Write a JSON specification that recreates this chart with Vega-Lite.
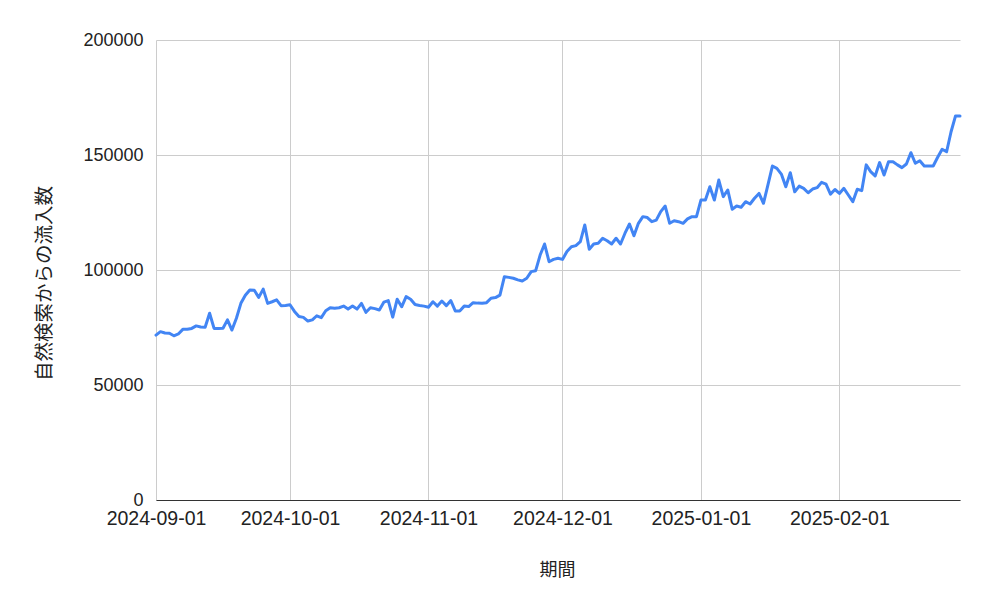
{
  "$schema": "https://vega.github.io/schema/vega-lite/v6.json",
  "autosize": {"type": "none"},
  "width": 804,
  "height": 460,
  "padding": {"left": 156, "top": 40, "right": 27, "bottom": 109},
  "background": "white",
  "config": {"view": {"stroke": null}},
  "data": {"values": [
    {"date":"2024/09/01","value":71700},{"date":"2024/09/02","value":73200},{"date":"2024/09/03","value":72600},{"date":"2024/09/04","value":72500},{"date":"2024/09/05","value":71400},{"date":"2024/09/06","value":72200},{"date":"2024/09/07","value":74200},{"date":"2024/09/08","value":74200},{"date":"2024/09/09","value":74600},{"date":"2024/09/10","value":75700},{"date":"2024/09/11","value":75200},{"date":"2024/09/12","value":75100},{"date":"2024/09/13","value":81200},{"date":"2024/09/14","value":74600},{"date":"2024/09/15","value":74600},{"date":"2024/09/16","value":74700},{"date":"2024/09/17","value":78300},{"date":"2024/09/18","value":73900},{"date":"2024/09/19","value":79000},{"date":"2024/09/20","value":85500},{"date":"2024/09/21","value":89000},{"date":"2024/09/22","value":91300},{"date":"2024/09/23","value":91200},{"date":"2024/09/24","value":88100},{"date":"2024/09/25","value":91700},{"date":"2024/09/26","value":85500},{"date":"2024/09/27","value":86200},{"date":"2024/09/28","value":87000},{"date":"2024/09/29","value":84500},{"date":"2024/09/30","value":84600},
    {"date":"2024/10/01","value":84900},{"date":"2024/10/02","value":82000},{"date":"2024/10/03","value":79800},{"date":"2024/10/04","value":79400},{"date":"2024/10/05","value":77800},{"date":"2024/10/06","value":78300},{"date":"2024/10/07","value":80100},{"date":"2024/10/08","value":79300},{"date":"2024/10/09","value":82300},{"date":"2024/10/10","value":83600},{"date":"2024/10/11","value":83400},{"date":"2024/10/12","value":83600},{"date":"2024/10/13","value":84300},{"date":"2024/10/14","value":83000},{"date":"2024/10/15","value":84300},{"date":"2024/10/16","value":83000},{"date":"2024/10/17","value":85500},{"date":"2024/10/18","value":81600},{"date":"2024/10/19","value":83600},{"date":"2024/10/20","value":83200},{"date":"2024/10/21","value":82600},{"date":"2024/10/22","value":86000},{"date":"2024/10/23","value":86700},{"date":"2024/10/24","value":79500},{"date":"2024/10/25","value":87300},{"date":"2024/10/26","value":84000},{"date":"2024/10/27","value":88400},{"date":"2024/10/28","value":87300},{"date":"2024/10/29","value":85000},{"date":"2024/10/30","value":84600},{"date":"2024/10/31","value":84300},
    {"date":"2024/11/01","value":83800},{"date":"2024/11/02","value":86200},{"date":"2024/11/03","value":84300},{"date":"2024/11/04","value":86500},{"date":"2024/11/05","value":84500},{"date":"2024/11/06","value":86700},{"date":"2024/11/07","value":82200},{"date":"2024/11/08","value":82200},{"date":"2024/11/09","value":84300},{"date":"2024/11/10","value":84100},{"date":"2024/11/11","value":85800},{"date":"2024/11/12","value":85600},{"date":"2024/11/13","value":85500},{"date":"2024/11/14","value":85800},{"date":"2024/11/15","value":87700},{"date":"2024/11/16","value":88000},{"date":"2024/11/17","value":89100},{"date":"2024/11/18","value":97100},{"date":"2024/11/19","value":96800},{"date":"2024/11/20","value":96400},{"date":"2024/11/21","value":95700},{"date":"2024/11/22","value":95200},{"date":"2024/11/23","value":96400},{"date":"2024/11/24","value":99300},{"date":"2024/11/25","value":99700},{"date":"2024/11/26","value":106500},{"date":"2024/11/27","value":111300},{"date":"2024/11/28","value":103600},{"date":"2024/11/29","value":104600},{"date":"2024/11/30","value":105100},
    {"date":"2024/12/01","value":104600},{"date":"2024/12/02","value":108000},{"date":"2024/12/03","value":110100},{"date":"2024/12/04","value":110600},{"date":"2024/12/05","value":112300},{"date":"2024/12/06","value":119600},{"date":"2024/12/07","value":109000},{"date":"2024/12/08","value":111300},{"date":"2024/12/09","value":111600},{"date":"2024/12/10","value":113800},{"date":"2024/12/11","value":112700},{"date":"2024/12/12","value":111300},{"date":"2024/12/13","value":113800},{"date":"2024/12/14","value":111300},{"date":"2024/12/15","value":116000},{"date":"2024/12/16","value":120000},{"date":"2024/12/17","value":114900},{"date":"2024/12/18","value":120300},{"date":"2024/12/19","value":123200},{"date":"2024/12/20","value":122800},{"date":"2024/12/21","value":121000},{"date":"2024/12/22","value":121700},{"date":"2024/12/23","value":125400},{"date":"2024/12/24","value":127800},{"date":"2024/12/25","value":120300},{"date":"2024/12/26","value":121400},{"date":"2024/12/27","value":121000},{"date":"2024/12/28","value":120300},{"date":"2024/12/29","value":122200},{"date":"2024/12/30","value":123200},{"date":"2024/12/31","value":123200},
    {"date":"2025/01/01","value":130400},{"date":"2025/01/02","value":130400},{"date":"2025/01/03","value":136200},{"date":"2025/01/04","value":130400},{"date":"2025/01/05","value":139100},{"date":"2025/01/06","value":131900},{"date":"2025/01/07","value":134800},{"date":"2025/01/08","value":126400},{"date":"2025/01/09","value":127800},{"date":"2025/01/10","value":127300},{"date":"2025/01/11","value":129700},{"date":"2025/01/12","value":128700},{"date":"2025/01/13","value":131200},{"date":"2025/01/14","value":133300},{"date":"2025/01/15","value":129000},{"date":"2025/01/16","value":137000},{"date":"2025/01/17","value":145200},{"date":"2025/01/18","value":144200},{"date":"2025/01/19","value":141700},{"date":"2025/01/20","value":136200},{"date":"2025/01/21","value":142300},{"date":"2025/01/22","value":134000},{"date":"2025/01/23","value":136500},{"date":"2025/01/24","value":135500},{"date":"2025/01/25","value":133600},{"date":"2025/01/26","value":135200},{"date":"2025/01/27","value":135800},{"date":"2025/01/28","value":138100},{"date":"2025/01/29","value":137300},{"date":"2025/01/30","value":133000},{"date":"2025/01/31","value":135000},
    {"date":"2025/02/01","value":133300},{"date":"2025/02/02","value":135500},{"date":"2025/02/03","value":132600},{"date":"2025/02/04","value":129700},{"date":"2025/02/05","value":135100},{"date":"2025/02/06","value":134500},{"date":"2025/02/07","value":145700},{"date":"2025/02/08","value":142800},{"date":"2025/02/09","value":140900},{"date":"2025/02/10","value":146700},{"date":"2025/02/11","value":141300},{"date":"2025/02/12","value":147100},{"date":"2025/02/13","value":147100},{"date":"2025/02/14","value":145700},{"date":"2025/02/15","value":144500},{"date":"2025/02/16","value":146100},{"date":"2025/02/17","value":151000},{"date":"2025/02/18","value":146400},{"date":"2025/02/19","value":147500},{"date":"2025/02/20","value":145200},{"date":"2025/02/21","value":145200},{"date":"2025/02/22","value":145200},{"date":"2025/02/23","value":149000},{"date":"2025/02/24","value":152500},{"date":"2025/02/25","value":151400},{"date":"2025/02/26","value":160100},{"date":"2025/02/27","value":167000},{"date":"2025/02/28","value":167000}
  ]},
  "mark": {"type": "line", "color": "#4285F4", "strokeWidth": 3, "strokeJoin": "round", "strokeCap": "round"},
  "encoding": {
    "x": {
      "field": "date", "type": "temporal",
      "scale": {"domain": [{"year": 2024, "month": 9, "date": 1}, {"year": 2025, "month": 2, "date": 28}], "nice": false},
      "axis": {
        "title": "期間",
        "format": "%Y-%m-%d",
        "tickCount": {"interval": "month", "step": 1},
        "ticks": false,
        "labelFlush": false,
        "labelOverlap": false,
        "labelPadding": 9,
        "labelFont": "Liberation Sans",
        "labelFontSize": 19.5,
        "labelColor": "#222222",
        "domainColor": "#333333",
        "domainWidth": 1,
        "gridColor": "#cccccc",
        "gridWidth": 1,
        "titleFont": "Noto Sans CJK JP",
        "titleFontSize": 18,
        "titleFontWeight": "normal",
        "titleColor": "#222222",
        "titleX": 401,
        "titleY": 70,
        "titleBaseline": "middle",
        "titleAlign": "center"
      }
    },
    "y": {
      "field": "value", "type": "quantitative",
      "scale": {"domain": [0, 200000], "nice": false},
      "axis": {
        "title": "自然検索からの流入数",
        "values": [0, 50000, 100000, 150000, 200000],
        "format": "d",
        "ticks": false,
        "domain": false,
        "labelFlush": false,
        "labelPadding": 13,
        "labelFont": "Liberation Sans",
        "labelFontSize": 18,
        "labelColor": "#222222",
        "gridColor": "#cccccc",
        "gridWidth": 1,
        "titleFont": "Noto Sans CJK JP",
        "titleFontSize": 19.5,
        "titleFontWeight": "normal",
        "titleColor": "#222222",
        "titleAngle": -90,
        "titleX": -112,
        "titleY": 243,
        "titleAlign": "center",
        "titleBaseline": "middle"
      }
    }
  }
}
